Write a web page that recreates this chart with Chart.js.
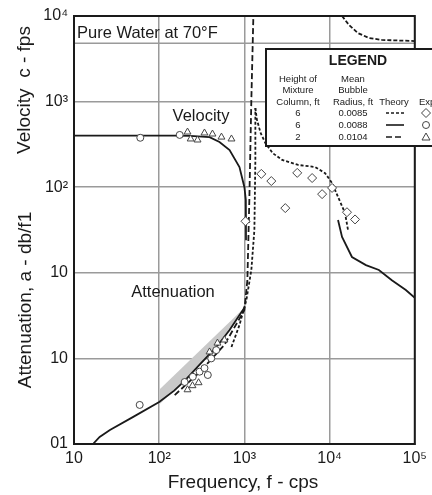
<!DOCTYPE html>
<html>
<head>
<meta charset="utf-8">
<script src="https://cdn.jsdelivr.net/npm/chart.js@4"></script>
<style>
  body { margin: 0; background: #fff; }
  #wrap { width: 432px; height: 495px; }
</style>
</head>
<body>
<div id="wrap"><canvas id="chart" width="432" height="495"></canvas></div>
<script>
// axes
const xTicks = [10, 100, 1000, 10000, 100000];
const xTickLabels = ['10', '10²', '10³', '10⁴', '10⁵'];
const yTicks = [0.1, 1, 10, 100, 1000, 10000];
const yTickLabels = ['01', '10', '10', '10²', '10³', '10⁴'];
const waterSpeed = 4800;

// theory, solid (6 ft, 0.0088)
const solidVelF = [10, 60, 150, 230, 390, 510, 670, 875, 1000, 1040, 1045];
const solidVelV = [400, 400, 400, 398, 385, 337, 272, 172, 100, 71, 24];
const solidAttF = [16.7, 20, 26.4, 49, 100, 150, 200, 300, 470, 670, 1000];
const solidAttV = [0.1, 0.121, 0.146, 0.206, 0.31, 0.42, 0.55, 0.85, 1.36, 2.15, 3.9];
const solidHighF = [12560, 14000, 18300, 26700, 37900, 53800, 78500, 100000];
const solidHighV = [41.4, 26.2, 15.3, 12.3, 10.8, 8.2, 6.3, 5.1];

// theory, short dash (6 ft, 0.0085)
const shortAttF = [705, 875, 1055, 1207, 1310, 1345, 1345];
const shortAttV = [1.36, 2.45, 4.8, 10.8, 31.6, 208, 841];
const shortVelF = [1345, 1400, 1550, 1762, 2150, 2780, 4280, 6770, 8850, 10690, 12560, 15170, 16450];
const shortVelV = [841, 620, 430, 328, 250, 208, 182, 172, 146, 112, 77, 50, 31.6];

// theory, long dash (2 ft, 0.0104)
const longAttF = [152, 298, 583, 1000, 1084, 1143, 1207, 1275];
const longAttV = [0.373, 0.69, 1.44, 3.67, 8.2, 71, 1045, 10000];
const longTopF = [14000, 16900, 21500, 29000, 41100, 100000];
const longTopV = [10000, 7850, 6320, 5530, 5250, 5100];

// shaded band
const bandUpperF = [100, 1000];
const bandUpperV = [0.43, 3.9];
const bandLowerF = [100, 246, 471, 668, 1000];
const bandLowerV = [0.29, 0.68, 1.36, 2.15, 3.9];

// experiments
const circleF = [60, 174, 59, 199, 248, 298, 340, 372, 408, 467];
const circleV = [378, 408, 0.286, 0.53, 0.61, 0.70, 0.77, 0.64, 1.0, 1.25];
const triangleF = [215, 234, 282, 340, 422, 538, 705, 215, 246, 290, 390, 483, 583];
const triangleV = [441, 366, 356, 430, 418, 385, 366, 0.43, 0.48, 0.52, 1.19, 1.51, 1.64];
const diamondF = [1030, 1580, 2070, 3020, 4170, 6240, 8170, 10700, 16000, 19900];
const diamondV = [40, 143, 118, 57, 147, 128, 83, 98, 51, 42];

// legend table
const legendHeights = ['6', '6', '2'];
const legendRadii = ['0.0085', '0.0088', '0.0104'];
const legendDashes = [[3, 2], [], [6, 3]];
const legendMarkers = ['diamond', 'circle', 'triangle'];

const FONT = '"Liberation Sans", Arial, "DejaVu Sans", sans-serif';
const INK = '#1a1a1a';

function pts(fs, vs) {
    return fs.map(function (f, i) { return { x: f, y: vs[i] }; });
}

function curve(fs, vs, dash) {
    return {
        data: pts(fs, vs), showLine: true, pointRadius: 0, borderColor: INK,
        borderWidth: 1.8, borderDash: dash, fill: false, tension: 0, order: 5
    };
}

function markers(fs, vs, style, r) {
    return {
        data: pts(fs, vs), showLine: false, pointStyle: style, pointRadius: r,
        pointBackgroundColor: '#fff', pointBorderColor: '#444', pointBorderWidth: 1, order: 1
    };
}

function drawMarker(ctx, kind, x, y) {
    ctx.save();
    ctx.fillStyle = '#fff'; ctx.strokeStyle = '#444'; ctx.lineWidth = 1;
    ctx.beginPath();
    if (kind === 'circle') {
        ctx.arc(x, y, 3.5, 0, Math.PI * 2);
    } else if (kind === 'diamond') {
        ctx.moveTo(x, y - 4.5); ctx.lineTo(x + 4.5, y); ctx.lineTo(x, y + 4.5); ctx.lineTo(x - 4.5, y); ctx.closePath();
    } else {
        ctx.moveTo(x, y - 4); ctx.lineTo(x + 4, y + 3); ctx.lineTo(x - 4, y + 3); ctx.closePath();
    }
    ctx.fill(); ctx.stroke();
    ctx.restore();
}

const decor = {
    id: 'decor',
    beforeDatasetsDraw(chart) {
        const ctx = chart.ctx, a = chart.chartArea;
        const yw = chart.scales.y.getPixelForValue(waterSpeed);
        ctx.save();
        ctx.strokeStyle = '#9a9a9a'; ctx.lineWidth = 1.5;
        ctx.beginPath(); ctx.moveTo(a.left, yw); ctx.lineTo(a.right, yw); ctx.stroke();
        ctx.restore();
    },
    afterDatasetsDraw(chart) {
        const ctx = chart.ctx, a = chart.chartArea;
        ctx.save();
        // frame
        ctx.strokeStyle = INK; ctx.lineWidth = 2;
        ctx.strokeRect(a.left, a.top, a.right - a.left, a.bottom - a.top);

        // labels inside the plot
        ctx.fillStyle = INK;
        ctx.font = '16.5px ' + FONT;
        ctx.textBaseline = 'middle';
        ctx.textAlign = 'left';
        ctx.fillText('Pure Water at 70°F', a.left + 3, 33);
        ctx.textAlign = 'center';
        ctx.fillText('Velocity', 201, 116);
        ctx.fillText('Attenuation', 173, 292);

        // axis titles
        ctx.font = '19px ' + FONT;
        ctx.fillText('Frequency, f - cps', 243, 483);
        ctx.save();
        ctx.translate(25, 90); ctx.rotate(-Math.PI / 2);
        ctx.fillText('Velocity  c - fps', 0, 0);
        ctx.restore();
        ctx.save();
        ctx.translate(26, 300); ctx.rotate(-Math.PI / 2);
        ctx.fillText('Attenuation, a - db/f1', 0, 0);
        ctx.restore();

        // legend box
        const lx = 266, ly = 49, lh = 97;
        ctx.fillStyle = '#fff';
        ctx.fillRect(lx, ly, 200, lh);
        ctx.strokeStyle = INK; ctx.lineWidth = 2;
        ctx.strokeRect(lx, ly, 200, lh);
        ctx.fillStyle = INK;
        ctx.font = 'bold 14px ' + FONT;
        ctx.fillText('LEGEND', 358, 61);
        ctx.font = '9.5px ' + FONT;
        ctx.fillText('Height of', 298, 79);
        ctx.fillText('Mixture', 298, 90);
        ctx.fillText('Column, ft', 298, 102);
        ctx.fillText('Mean', 353, 79);
        ctx.fillText('Bubble', 353, 90);
        ctx.fillText('Radius, ft', 353, 102);
        ctx.fillText('Theory', 394, 102);
        ctx.textAlign = 'left';
        ctx.fillText('Experiment', 419, 102);
        ctx.textAlign = 'center';
        legendHeights.forEach(function (h, i) {
            const ry = 113 + i * 12;
            ctx.fillStyle = INK;
            ctx.fillText(h, 298, ry);
            ctx.fillText(legendRadii[i], 353, ry);
            ctx.save();
            ctx.strokeStyle = INK; ctx.lineWidth = 1.6;
            ctx.setLineDash(legendDashes[i]);
            ctx.beginPath(); ctx.moveTo(386, ry); ctx.lineTo(404, ry); ctx.stroke();
            ctx.restore();
            drawMarker(ctx, legendMarkers[i], 426, ry);
        });
        ctx.restore();
    }
};

const ctx = document.getElementById('chart').getContext('2d');
new Chart(ctx, {
    type: 'scatter',
    data: {
        datasets: [
            { data: pts(bandUpperF, bandUpperV), showLine: true, pointRadius: 0, borderWidth: 0,
              borderColor: 'rgba(0,0,0,0)', backgroundColor: '#c9c9c9', fill: false, order: 10 },
            { data: pts(bandLowerF, bandLowerV), showLine: true, pointRadius: 0, borderWidth: 0,
              borderColor: 'rgba(0,0,0,0)', backgroundColor: '#c9c9c9', fill: '-1', order: 10 },
            curve(solidVelF, solidVelV, []),
            curve(solidAttF, solidAttV, []),
            curve(solidHighF, solidHighV, []),
            curve(shortAttF, shortAttV, [3, 2]),
            curve(shortVelF, shortVelV, [3, 2]),
            curve(longAttF, longAttV, [6, 3]),
            curve(longTopF, longTopV, [4, 2]),
            markers(circleF, circleV, 'circle', 3.5),
            markers(triangleF, triangleV, 'triangle', 4),
            markers(diamondF, diamondV, 'rectRot', 4.5)
        ]
    },
    options: {
        responsive: false,
        animation: false,
        layout: { padding: { top: 16, right: 16, left: 0, bottom: 0 } },
        plugins: { legend: { display: false }, tooltip: { enabled: false } },
        scales: {
            x: {
                type: 'logarithmic', min: 10, max: 100000,
                afterBuildTicks: function (s) { s.ticks = xTicks.map(function (v) { return { value: v }; }); },
                afterFit: function (s) { s.height = 51; },
                ticks: {
                    autoSkip: false, maxRotation: 0, padding: 5, color: INK,
                    font: { size: 16, family: FONT },
                    callback: function (v, i) { return xTickLabels[i]; }
                },
                grid: { color: '#9a9a9a', lineWidth: 1.5, drawTicks: false },
                border: { color: INK, width: 2 }
            },
            y: {
                type: 'logarithmic', min: 0.1, max: 10000,
                afterBuildTicks: function (s) { s.ticks = yTicks.map(function (v) { return { value: v }; }); },
                afterFit: function (s) { s.width = 74; },
                ticks: {
                    autoSkip: false, padding: 6, color: INK,
                    font: { size: 16, family: FONT },
                    callback: function (v, i) { return yTickLabels[i]; }
                },
                grid: { color: '#9a9a9a', lineWidth: 1.5, drawTicks: false },
                border: { color: INK, width: 2 }
            }
        }
    },
    plugins: [decor]
});
</script>
</body>
</html>
